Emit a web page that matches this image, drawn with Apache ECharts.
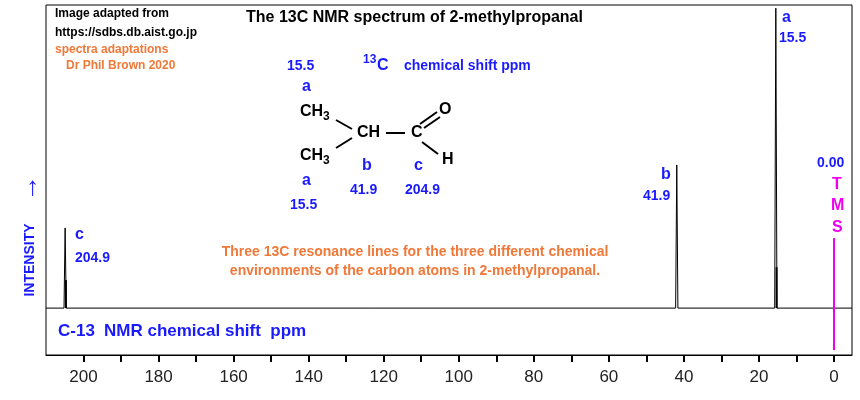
<!DOCTYPE html>
<html><head><meta charset="utf-8">
<script src="https://cdn.jsdelivr.net/npm/echarts@6/dist/echarts.min.js"></script>
<style>html,body{margin:0;background:#fff}#c{width:860px;height:400px}</style></head>
<body><div id="c"></div>
<script>
const peakShifts = [204.9, 41.9, 15.5];
const peakHeights = [36.3, 54.3, 99.1];
const subShifts = [204.7, 15.3];
const subHeights = [21.4, 25.1];
const baseline = 13.4;
const tmsShift = 0;
const tmsRange = [1.4, 33.4];
const tickLabels = [200,180,160,140,120,100,80,60,40,20,0];
const minorTicks = [200,190,180,170,160,150,140,130,120,110,100,90,80,70,60,50,40,30,20,10,0];

const spec = [[210, baseline]];
peakShifts.forEach((s,i)=>{ spec.push([s+0.3,baseline],[s,peakHeights[i]],[s-0.3,baseline]); });
spec.push([-4.8, baseline]);
spec.sort((a,b)=>b[0]-a[0]);

const B='#1a1aff', O='#f07838', F='Liberation Sans, Arial, sans-serif';
function t(x,y,s,o){return Object.assign({type:'text',x:x,y:y,style:Object.assign({text:s,fill:B,font:'bold 14px '+F,textVerticalAlign:'middle'},o||{})});}
function l(x1,y1,x2,y2){return {type:'line',shape:{x1,y1,x2,y2},style:{stroke:'#000',lineWidth:2}};}

const chart = echarts.init(document.getElementById('c'));
chart.setOption({
  animation:false,
  grid:{left:46,right:8,top:5,bottom:45,show:true,borderColor:'#000',borderWidth:1},
  xAxis:{type:'value',inverse:true,min:-4.8,max:210,
    axisLine:{lineStyle:{color:'#000'}},splitLine:{show:false},
    axisTick:{customValues:minorTicks,length:7,lineStyle:{color:'#000',width:2}},
    axisLabel:{customValues:tickLabels,color:'#222',fontSize:17,fontFamily:F,margin:14}},
  yAxis:{type:'value',min:0,max:100,show:false},
  series:[
    {type:'line',data:spec,symbol:'none',lineStyle:{color:'#000',width:1},z:3},
    ...subShifts.map((s,i)=>({type:'line',data:[[s,baseline],[s,subHeights[i]]],symbol:'none',lineStyle:{color:'#000',width:2}})),
    {type:'line',data:[[tmsShift,tmsRange[0]],[tmsShift,tmsRange[1]]],symbol:'none',lineStyle:{color:'#ee00ee',width:2}}
  ],
  graphic:[
    t(55,14,'Image adapted from',{fill:'#000',font:'bold 12px '+F}),
    t(55,33,'https://sdbs.db.aist.go.jp',{fill:'#000',font:'bold 12px '+F}),
    t(55,50,'spectra adaptations',{fill:O,font:'bold 12px '+F}),
    t(66,66,'Dr Phil Brown 2020',{fill:O,font:'bold 12px '+F}),
    t(246,18,'The 13C NMR spectrum of 2-methylpropanal',{fill:'#000',font:'bold 16px '+F}),
    t(287,66,'15.5'),t(302,87,'a',{font:'bold 16px '+F}),
    t(363,60,'13',{font:'bold 12px '+F}),t(377,66,'C',{font:'bold 16px '+F}),t(404,66,'chemical shift ppm'),
    t(300,112,'CH',{fill:'#000',font:'bold 16px '+F}),t(323,117,'3',{fill:'#000',font:'bold 12px '+F}),
    t(300,156,'CH',{fill:'#000',font:'bold 16px '+F}),t(323,161,'3',{fill:'#000',font:'bold 12px '+F}),
    t(357,133,'CH',{fill:'#000',font:'bold 16px '+F}),t(411,133,'C',{fill:'#000',font:'bold 16px '+F}),
    t(439,110,'O',{fill:'#000',font:'bold 16px '+F}),t(442,160,'H',{fill:'#000',font:'bold 16px '+F}),
    l(336,120,352,129),l(336,148,352,138),l(386,133,405,133),l(420,124,437,112),l(424,128,440,117),l(422,142,438,154),
    t(362,166,'b',{font:'bold 16px '+F}),t(350,190,'41.9'),t(414,166,'c',{font:'bold 16px '+F}),t(405,190,'204.9'),
    t(302,181,'a',{font:'bold 16px '+F}),t(290,205,'15.5'),
    t(782,18,'a',{font:'bold 16px '+F}),t(779,38,'15.5'),
    t(661,175,'b',{font:'bold 16px '+F}),t(643,196,'41.9'),
    t(75,235,'c',{font:'bold 16px '+F}),t(75,258,'204.9'),
    t(817,163,'0.00'),
    t(832,185,'T',{fill:'#ee00ee',font:'bold 16px '+F}),t(831,206,'M',{fill:'#ee00ee',font:'bold 16px '+F}),t(832,228,'S',{fill:'#ee00ee',font:'bold 16px '+F}),
    t(415,252,'Three 13C resonance lines for the three different chemical',{fill:O,textAlign:'center'}),
    t(415,271,'environments of the carbon atoms in 2-methylpropanal.',{fill:O,textAlign:'center'}),
    t(58,331,'C-13',{font:'bold 17px '+F}),t(104,331,'NMR chemical shift  ppm',{font:'bold 17px '+F}),
    {type:'text',x:30,y:260,rotation:Math.PI/2,style:{text:'INTENSITY',fill:B,font:'bold 14px '+F,textAlign:'center',textVerticalAlign:'middle'}},
    {type:'text',x:30,y:188,rotation:Math.PI/2,style:{text:'→',fill:B,font:'bold 26px '+F,textAlign:'center',textVerticalAlign:'middle'}}
  ]
});
</script></body></html>
